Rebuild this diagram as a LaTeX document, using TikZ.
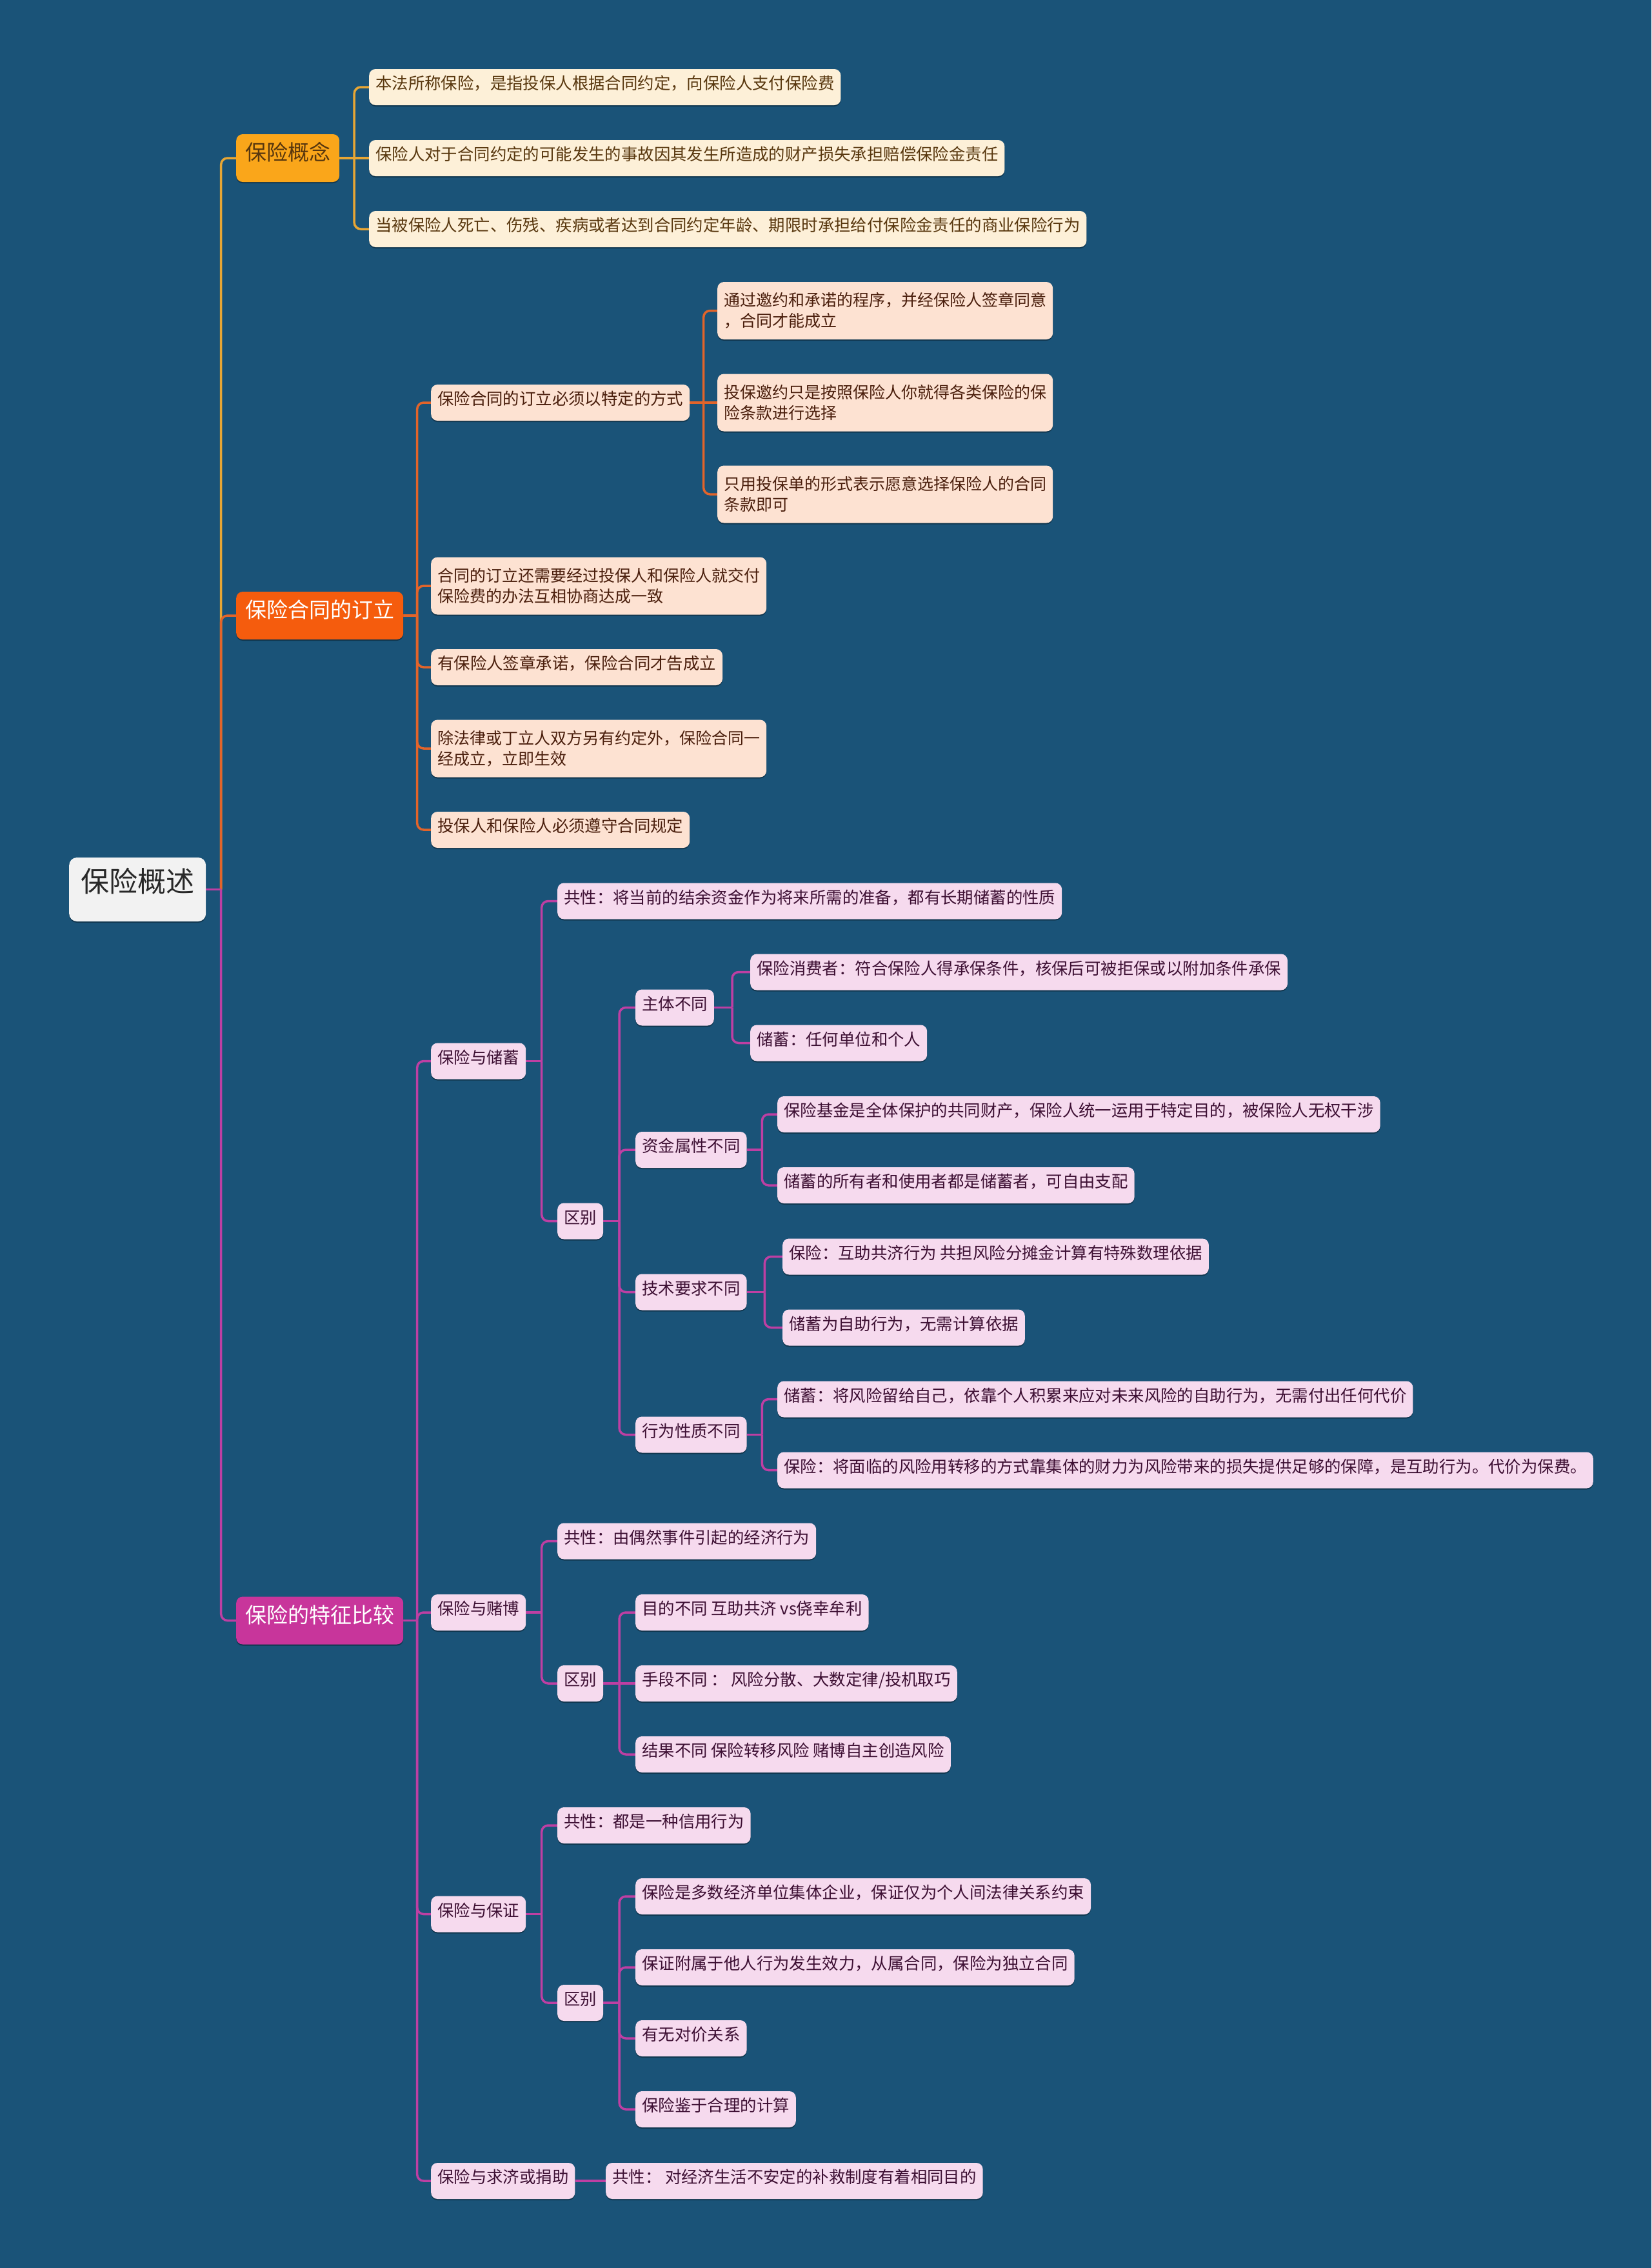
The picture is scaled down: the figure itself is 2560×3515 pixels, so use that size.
\documentclass[tikz,border=0pt]{standalone}
\usepackage{fontspec}
\setmainfont{Noto Sans CJK SC}
\usetikzlibrary{calc,shadows}
\definecolor{bgc}{RGB}{26,83,120}
\definecolor{rootc}{RGB}{242,242,242}
\definecolor{roottxt}{RGB}{40,40,40}
\definecolor{yelc}{RGB}{250,166,26}
\definecolor{yeltxt}{RGB}{88,55,14}
\definecolor{yleaf}{RGB}{253,240,216}
\definecolor{yline}{RGB}{232,166,52}
\definecolor{orac}{RGB}{245,92,13}
\definecolor{oleaf}{RGB}{253,226,210}
\definecolor{otxt}{RGB}{74,30,12}
\definecolor{oline}{RGB}{226,100,42}
\definecolor{magc}{RGB}{200,53,155}
\definecolor{pleaf}{RGB}{246,218,238}
\definecolor{ptxt}{RGB}{61,15,51}
\definecolor{pline}{RGB}{190,63,163}
\pgfdeclarelayer{bglayer}
\pgfdeclarelayer{lines}
\pgfsetlayers{bglayer,lines,main}
\tikzset{
  basebox/.style={anchor=west, rounded corners=10pt, inner xsep=10pt, inner ysep=0pt,
    drop shadow={shadow xshift=0pt, shadow yshift=-2pt, opacity=0.35, fill=black}},
  onel/.style={basebox, minimum height=56pt, font=\fontsize{25.4}{32}\selectfont,
    text height=0.88em, text depth=0.12em},
  twol/.style={basebox, minimum height=89pt, font=\fontsize{25}{32}\selectfont, align=left},
  rootbox/.style={basebox, fill=rootc, text=roottxt, rounded corners=12pt, inner xsep=18pt,
    minimum height=99pt, font=\fontsize{44}{50}\selectfont, text height=0.88em, text depth=0.12em},
  lonebox/.style={basebox, inner xsep=14pt, minimum height=74pt, font=\fontsize{33}{40}\selectfont,
    text height=0.88em, text depth=0.12em},
  ya/.style={lonebox, fill=yelc, text=yeltxt},
  ob/.style={lonebox, fill=orac, text=white},
  mc/.style={lonebox, fill=magc, text=white},
  ly/.style={onel, fill=yleaf, text=yeltxt},
  lo/.style={onel, fill=oleaf, text=otxt},
  lo2/.style={twol, fill=oleaf, text=otxt},
  lp/.style={onel, fill=pleaf, text=ptxt},
  yl/.style={draw=yline, line width=3.5pt},
  ol/.style={draw=oline, line width=3.5pt},
  pl/.style={draw=pline, line width=3.5pt},
}
\newcommand\link[3]{%
  \draw[#1] (#2.east) -- ($(#2.east)!0.5!(#2.east -| #3.west)$) coordinate (tmpm);
  \draw[#1, rounded corners=10pt] (tmpm) |- (#3.west);}
\newcommand\linkS[3]{\draw[#1] (#2.east) -- (#3.west);}
\begin{document}
\begin{tikzpicture}[x=1pt,y=-1pt]
\begin{pgfonlayer}{bglayer}
\fill[bgc] (0,0) rectangle (2560,3515);
\end{pgfonlayer}
\useasboundingbox (0,0) rectangle (2560,3515);

\node[rootbox] (R) at (107,1378.5) {保险概述};

\node[ya] (A) at (366,245) {保险概念};
\node[ob] (B) at (366,954) {保险合同的订立};
\node[mc] (C) at (366,2511.5) {保险的特征比较};

\node[ly] (A1) at (572,135) {本法所称保险，是指投保人根据合同约定，向保险人支付保险费};
\node[ly] (A2) at (572,245) {保险人对于合同约定的可能发生的事故因其发生所造成的财产损失承担赔偿保险金责任};
\node[ly] (A3) at (572,355) {当被保险人死亡、伤残、疾病或者达到合同约定年龄、期限时承担给付保险金责任的商业保险行为};

\node[lo] (B1) at (668,624) {保险合同的订立必须以特定的方式};
\node[lo2] (B1a) at (1112,481.5) {通过邀约和承诺的程序，并经保险人签章同意\\，合同才能成立};
\node[lo2] (B1b) at (1112,624) {投保邀约只是按照保险人你就得各类保险的保\\险条款进行选择};
\node[lo2] (B1c) at (1112,766) {只用投保单的形式表示愿意选择保险人的合同\\条款即可};
\node[lo2] (B2) at (668,908) {合同的订立还需要经过投保人和保险人就交付\\保险费的办法互相协商达成一致};
\node[lo] (B3) at (668,1034) {有保险人签章承诺，保险合同才告成立};
\node[lo2] (B4) at (668,1160) {除法律或丁立人双方另有约定外，保险合同一\\经成立，立即生效};
\node[lo] (B5) at (668,1286) {投保人和保险人必须遵守合同规定};

\node[lp] (C1) at (668,1644.5) {保险与储蓄};
\node[lp] (C1a) at (864,1396.5) {共性：将当前的结余资金作为将来所需的准备，都有长期储蓄的性质};
\node[lp] (C1b) at (864,1892.5) {区别};
\node[lp] (D1) at (985,1561.5) {主体不同};
\node[lp] (D1a) at (1163,1506.5) {保险消费者：符合保险人得承保条件，核保后可被拒保或以附加条件承保};
\node[lp] (D1b) at (1163,1616.5) {储蓄：任何单位和个人};
\node[lp] (D2) at (985,1782) {资金属性不同};
\node[lp] (D2a) at (1205,1727) {保险基金是全体保护的共同财产，保险人统一运用于特定目的，被保险人无权干涉};
\node[lp] (D2b) at (1205,1837) {储蓄的所有者和使用者都是储蓄者，可自由支配};
\node[lp] (D3) at (985,2002.5) {技术要求不同};
\node[lp] (D3a) at (1213,1947.5) {保险：互助共济行为 共担风险分摊金计算有特殊数理依据};
\node[lp] (D3b) at (1213,2057.5) {储蓄为自助行为，无需计算依据};
\node[lp] (D4) at (985,2223.5) {行为性质不同};
\node[lp] (D4a) at (1205,2168.5) {储蓄：将风险留给自己，依靠个人积累来应对未来风险的自助行为，无需付出任何代价};
\node[lp] (D4b) at (1205,2278.5) {保险：将面临的风险用转移的方式靠集体的财力为风险带来的损失提供足够的保障，是互助行为。代价为保费。};

\node[lp] (C2) at (668,2499) {保险与赌博};
\node[lp] (C2a) at (864,2388.5) {共性：由偶然事件引起的经济行为};
\node[lp] (C2b) at (864,2609) {区别};
\node[lp] (E1) at (985,2499) {目的不同 互助共济 vs侥幸牟利};
\node[lp] (E2) at (985,2609) {手段不同 ： 风险分散、大数定律/投机取巧};
\node[lp] (E3) at (985,2719) {结果不同 保险转移风险 赌博自主创造风险};

\node[lp] (C3) at (668,2966.5) {保险与保证};
\node[lp] (C3a) at (864,2829) {共性：都是一种信用行为};
\node[lp] (C3b) at (864,3104) {区别};
\node[lp] (F1) at (985,2939) {保险是多数经济单位集体企业，保证仅为个人间法律关系约束};
\node[lp] (F2) at (985,3049) {保证附属于他人行为发生效力，从属合同，保险为独立合同};
\node[lp] (F3) at (985,3159) {有无对价关系};
\node[lp] (F4) at (985,3269) {保险鉴于合理的计算};

\node[lp] (C4) at (668,3380) {保险与求济或捐助};
\node[lp] (C4a) at (939,3380) {共性： 对经济生活不安定的补救制度有着相同目的};

\begin{pgfonlayer}{lines}
\link{yl}{R}{A}
\link{ol}{R}{B}
\link{pl}{R}{C}

\link{yl}{A}{A1}
\linkS{yl}{A}{A2}
\link{yl}{A}{A3}

\link{ol}{B}{B1}
\link{ol}{B}{B2}
\link{ol}{B}{B3}
\link{ol}{B}{B4}
\link{ol}{B}{B5}
\link{ol}{B1}{B1a}
\linkS{ol}{B1}{B1b}
\link{ol}{B1}{B1c}

\link{pl}{C}{C1}
\link{pl}{C}{C2}
\link{pl}{C}{C3}
\link{pl}{C}{C4}
\link{pl}{C1}{C1a}
\link{pl}{C1}{C1b}
\link{pl}{C1b}{D1}
\link{pl}{C1b}{D2}
\link{pl}{C1b}{D3}
\link{pl}{C1b}{D4}
\link{pl}{D1}{D1a}
\link{pl}{D1}{D1b}
\link{pl}{D2}{D2a}
\link{pl}{D2}{D2b}
\link{pl}{D3}{D3a}
\link{pl}{D3}{D3b}
\link{pl}{D4}{D4a}
\link{pl}{D4}{D4b}
\link{pl}{C2}{C2a}
\link{pl}{C2}{C2b}
\link{pl}{C2b}{E1}
\linkS{pl}{C2b}{E2}
\link{pl}{C2b}{E3}
\link{pl}{C3}{C3a}
\link{pl}{C3}{C3b}
\link{pl}{C3b}{F1}
\link{pl}{C3b}{F2}
\link{pl}{C3b}{F3}
\link{pl}{C3b}{F4}
\linkS{pl}{C4}{C4a}
\end{pgfonlayer}
\end{tikzpicture}
\end{document}
